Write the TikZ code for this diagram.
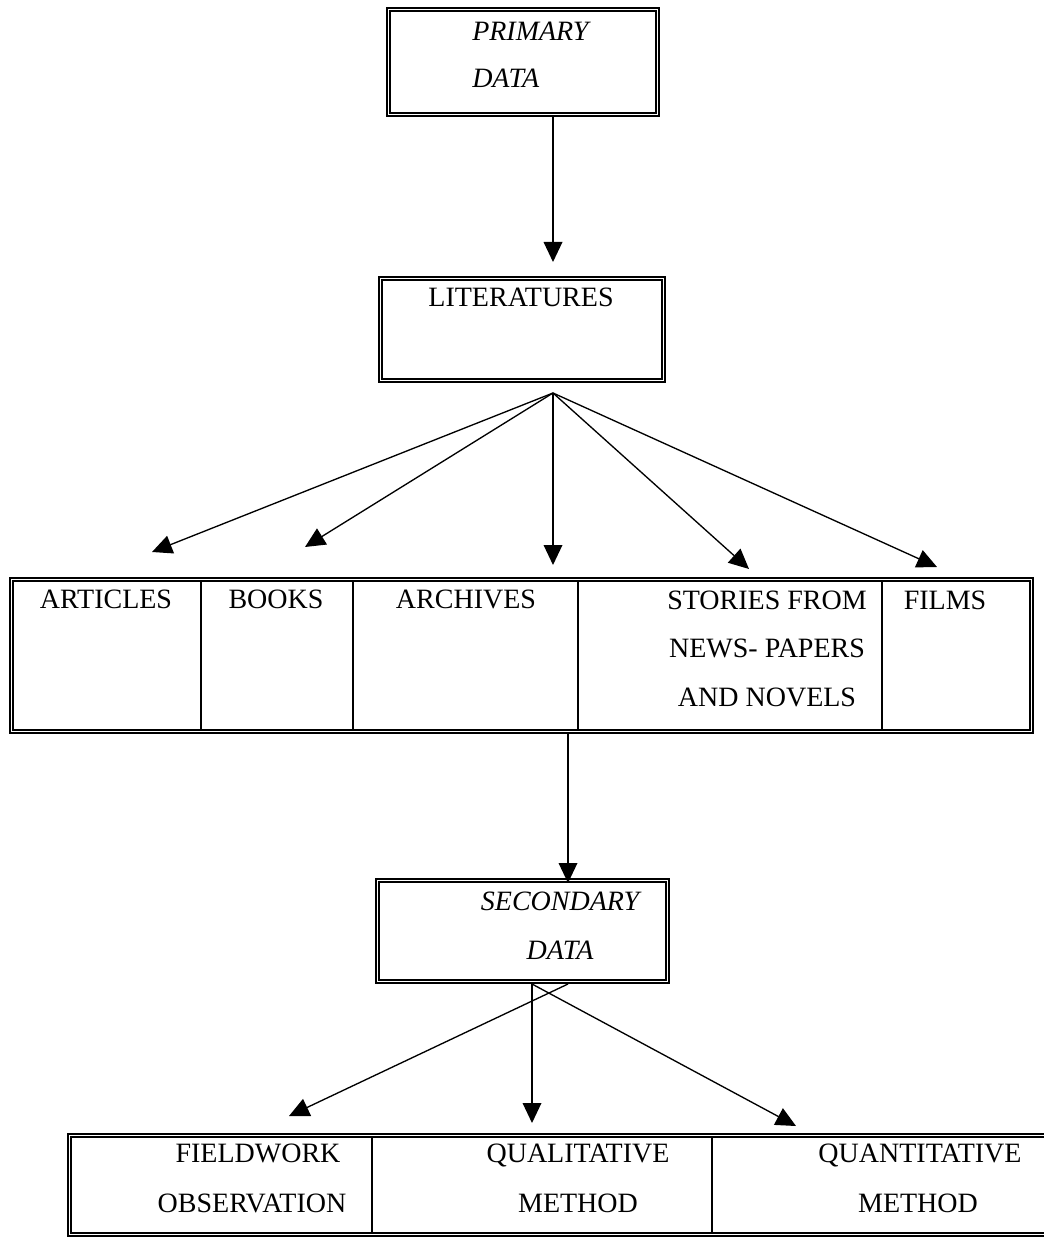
\documentclass[tikz,border=0pt]{standalone}
\usepackage{fontspec}
\setmainfont{Liberation Serif}
\usetikzlibrary{arrows.meta,fit}
\begin{document}
\begin{tikzpicture}[x=0.75pt,y=-0.75pt,
  dbox/.style={draw, double, line width=1.2pt, double distance=1.2pt, inner sep=0pt},
  divider/.style={line width=1pt},
  conn/.style={line width=1pt, -{Triangle[length=15pt,width=14pt]}},
  lbl/.style={font=\fontsize{21}{24}\selectfont, inner sep=0pt, anchor=base},
  ilbl/.style={lbl, font=\fontsize{21}{24}\selectfont\itshape}]
\useasboundingbox (0,0) rectangle (1043,1237);

% boxes
\node[dbox, fit={(388.5,9.5) (657.5,114.5)}] (primary) {};
\node[dbox, fit={(380.5,278.5) (663.5,380.5)}] (lit) {};
\node[dbox, fit={(11.5,579.5) (1031.5,731.5)}] (midtable) {};
\node[dbox, fit={(377.5,880.5) (667.5,981.5)}] (secondary) {};
\node[dbox, fit={(69.5,1135.5) (1070,1234.5)}] (bottable) {};

% dividers middle table
\foreach \x in {201,353,578,882}
  \draw[divider] (\x,581) -- (\x,730);
% dividers bottom table
\foreach \x in {372,712}
  \draw[divider] (\x,1137) -- (\x,1233);

% texts
\node[ilbl, anchor=base west] (tprim1) at (472,40.5) {PRIMARY};
\node[ilbl, anchor=base west] (tprim2) at (472,88) {DATA};
\node[lbl] (tlit) at (521,306) {LITERATURES};
\node[lbl] (tart) at (106,608) {ARTICLES};
\node[lbl] (tbook) at (276,608) {BOOKS};
\node[lbl] (tarch) at (466,608) {ARCHIVES};
\node[lbl] (tsto1) at (767,609) {STORIES FROM};
\node[lbl] (tsto2) at (767,657) {NEWS- PAPERS};
\node[lbl] (tsto3) at (767,706) {AND NOVELS};
\node[lbl] (tfilm) at (945,609) {FILMS};
\node[ilbl] (tsec1) at (560,910) {SECONDARY};
\node[ilbl] (tsec2) at (560,959) {DATA};
\node[lbl] (tfw1) at (258,1162) {FIELDWORK};
\node[lbl] (tfw2) at (252,1212) {OBSERVATION};
\node[lbl] (tql1) at (578,1162) {QUALITATIVE};
\node[lbl] (tql2) at (578,1212) {METHOD};
\node[lbl] (tqn1) at (920,1162) {QUANTITATIVE};
\node[lbl] (tqn2) at (918,1212) {METHOD};

% connector points
\coordinate (primtip) at (553,262);
\coordinate (litfan) at (553,393);
\coordinate (tipart) at (152,552);
\coordinate (tipbook) at (305,547);
\coordinate (tiparch) at (553,565);
\coordinate (tipsto) at (749,569);
\coordinate (tipfilm) at (937,567);
\coordinate (midout) at (568,734);
\coordinate (sectip) at (568,883);
\coordinate (secA) at (568,984);
\coordinate (secB) at (532,984);
\coordinate (tipfw) at (289,1116);
\coordinate (tipql) at (532,1123);
\coordinate (tipqn) at (796,1126);

% connectors
\draw[conn] (primary.south -| primtip) -- (primtip);
\draw[conn] (litfan) -- (tipart);
\draw[conn] (litfan) -- (tipbook);
\draw[conn] (litfan) -- (tiparch);
\draw[conn] (litfan) -- (tipsto);
\draw[conn] (litfan) -- (tipfilm);
\draw[conn] (midout) -- (sectip);
\draw[conn] (secA) -- (tipfw);
\draw[conn] (secB) -- (tipql);
\draw[conn] (secB) -- (tipqn);
\end{tikzpicture}
\end{document}
